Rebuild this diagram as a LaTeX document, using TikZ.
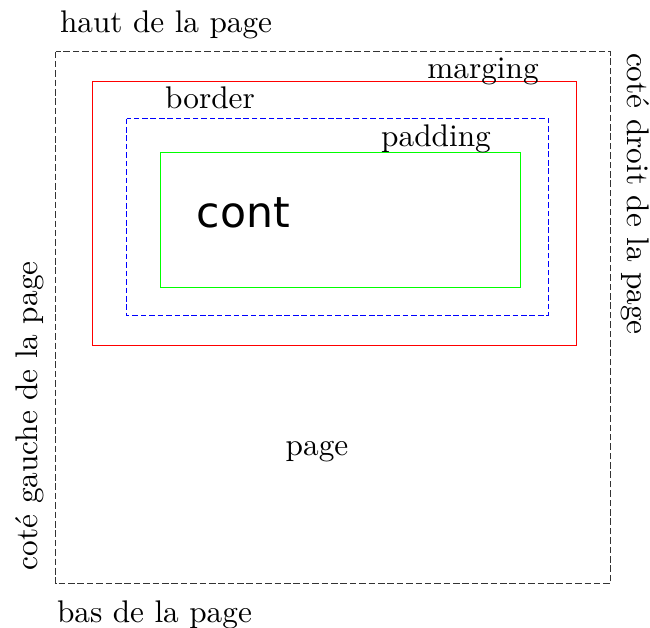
\documentclass[tikz,border=0pt]{standalone}
\usepackage{fontspec}
\newfontfamily\contfont{DejaVu Sans}
\begin{document}
\begin{tikzpicture}[x=0.3195pt,y=-0.3195pt,
  lbl/.style={inner sep=0pt,outer sep=0pt,font=\normalsize},
  pagebox/.style={draw=black!80,line width=0.35pt,dash pattern=on 2.1pt off 0.9pt},
  margbox/.style={draw=red,line width=0.35pt},
  bordbox/.style={draw=blue,line width=0.35pt,dash pattern=on 1.8pt off 0.9pt},
  padbox/.style={draw=green,line width=0.35pt}]
\useasboundingbox (0,0) rectangle (650,627);
\draw[pagebox] (55.5,51.5) rectangle (610.5,583.5);
\draw[margbox] (92.5,81.5) rectangle (576.5,345.5);
\draw[bordbox] (126.5,118.5) rectangle (548.5,315.5);
\draw[padbox] (160.5,152.5) rectangle (520.5,287.5);
\node[lbl,anchor=base west] (haut) at (60,32) {haut de la page};
\node[lbl,anchor=base west] (bas) at (57,622) {bas de la page};
\node[lbl,anchor=base west,rotate=90] (gauche) at (37,570) {coté gauche de la page};
\node[lbl,anchor=base west,rotate=-90] (droit) at (627,53) {coté droit de la page};
\node[lbl,anchor=base] (marging) at (483,78) {marging};
\node[lbl,anchor=base] (border) at (210,108) {border};
\node[lbl,anchor=base] (padding) at (436,146) {padding};
\node[lbl,anchor=base,font=\contfont\fontsize{13.6}{16}\selectfont] (cont) at (243.5,227) {cont};
\node[lbl,anchor=base] (page) at (317,455) {page};
\end{tikzpicture}
\end{document}
